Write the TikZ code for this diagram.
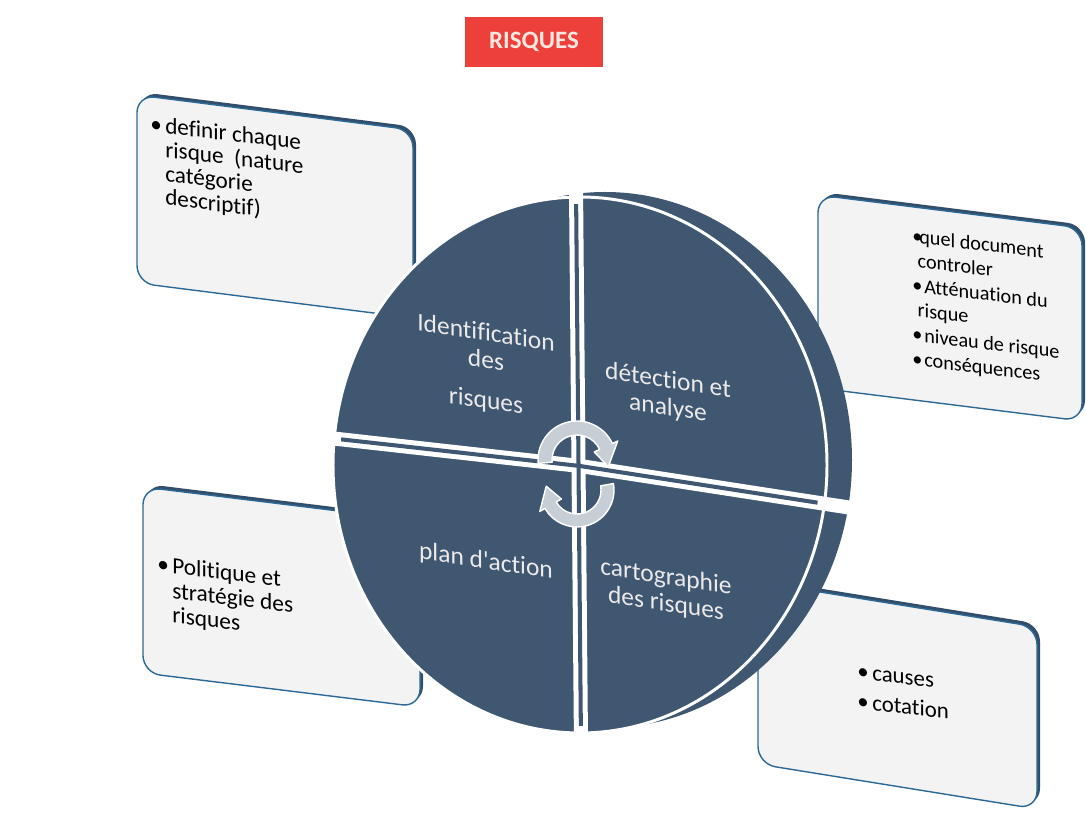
\documentclass[tikz,border=0pt]{standalone}
\usepackage{fontspec}
\setmainfont{Carlito}[Ligatures={NoCommon,TeXOff}]
\usepackage{tikz}

\definecolor{discblue}{RGB}{63,87,113}
\definecolor{boxfill}{RGB}{243,243,243}
\definecolor{boxline}{RGB}{45,105,150}
\definecolor{boxedge}{RGB}{50,78,106}
\definecolor{arrowgray}{RGB}{200,206,213}
\definecolor{titlered}{RGB}{237,64,58}
\definecolor{titletext}{RGB}{253,232,225}
\definecolor{disctxt}{RGB}{236,233,233}

% one slanted card: left x, right x, top-left y, top-right y, height
\newcommand{\riskpanel}[5]{%
  \fill[boxedge,rounded corners=10pt] (#1+3,#3+3) -- (#2+3,#4+3) -- (#2+3,#4-#5+3) -- (#1+3,#3-#5+3) -- cycle;
  \draw[boxface] (#1,#3) -- (#2,#4) -- (#2,#4-#5) -- (#1,#3-#5) -- cycle;}
\newcommand{\bul}[1][8.5pt]{\makebox[#1][l]{\textbullet}}

\begin{document}
\begin{tikzpicture}[x=0.02cm,y=0.02cm,line join=round,
  boxface/.style={fill=boxfill,draw=boxline,line width=0.8pt,rounded corners=10pt},
  boxtext/.style={anchor=north west,yslant=-0.12,align=left,text=black,inner sep=0pt},
  disctext/.style={yslant=-0.15,align=center,text=disctxt,inner sep=0pt,
    font=\fontsize{14.5}{15.5}\selectfont},
  cyclearrow/.style={fill=arrowgray,draw=white,line width=0.8pt}]
\useasboundingbox (0,0) rectangle (1086,812);

% title
\node[fill=titlered,text=titletext,font=\bfseries\fontsize{14.2}{16}\selectfont,
  minimum width=2.76cm,minimum height=1cm] (title) at (534,770) {RISQUES};

% cards
\riskpanel{137}{413}{717}{682}{188}
\riskpanel{818}{1082}{617}{584}{193}
\riskpanel{143}{420}{325}{291}{186}
\riskpanel{758}{1037}{230}{185}{182}

\node[boxtext,font=\fontsize{13.2}{13.6}\selectfont] (ident_txt) at (150,697)
  {\bul definir chaque\\\hspace*{8.5pt}risque\ \ (nature\\\hspace*{8.5pt}catégorie\\\hspace*{8.5pt}descriptif)};
\node[boxtext,font=\fontsize{11.5}{14}\selectfont] (detect_txt) at (912,584)
  {\bul[4pt]quel document\\\hspace*{3pt}controler\\\bul[6.8pt]Atténuation du\\\hspace*{3pt}risque\\%
   \bul[6.8pt]niveau de risque\\\bul[6.8pt]conséquences};
\node[boxtext,font=\fontsize{13.3}{14}\selectfont] (plan_txt) at (157,257)
  {\bul Politique et\\\hspace*{8.5pt}stratégie des\\\hspace*{8.5pt}risques};
\node[boxtext,font=\fontsize{13}{17}\selectfont] (carto_txt) at (857,145)
  {\bul causes\\\bul cotation};

% disc: side, then face
\fill[discblue] (605,352) ellipse [x radius=247, y radius=268];
\filldraw[fill=discblue,draw=white,line width=1.7pt] (580,347) ellipse [x radius=247, y radius=268];

% gaps between the quarters
\draw[white,line width=8pt] (576,625) -- (581,68);
\draw[white,line width=8pt] (320,375) -- (580,346) -- (865,302);
\begin{scope}
\clip (580,347) ellipse [x radius=240, y radius=261];
\draw[discblue,line width=2.3pt] (576,625) -- (581,68);
\draw[discblue,line width=2.3pt] (320,375) -- (580,346) -- (865,302);
\end{scope}

% quarter labels
\node[disctext] (ident) at (486,444) {Identification\\des\\[7.6pt]risques};
\node[disctext] (detect) at (668,417) {détection et\\analyse};
\node[disctext] (plan) at (486,250) {plan d'action};
\node[disctext] (carto) at (666,221) {cartographie\\des risques};

% cycle arrows
\begin{scope}[shift={(577,352)}]
\filldraw[cyclearrow] (185:39) arc[start angle=185, end angle=25, radius=39]
  -- (25:45) -- (-12:32) -- (25:19) -- (25:25)
  arc[start angle=25, end angle=185, radius=25] -- cycle;
\end{scope}
\begin{scope}[shift={(577,322)}]
\filldraw[cyclearrow] (10:37) arc[start angle=10, end angle=-150, radius=37]
  -- (-150:43) -- (-187:31) -- (-150:18) -- (-150:24)
  arc[start angle=-150, end angle=10, radius=24] -- cycle;
\end{scope}
\end{tikzpicture}
\end{document}
